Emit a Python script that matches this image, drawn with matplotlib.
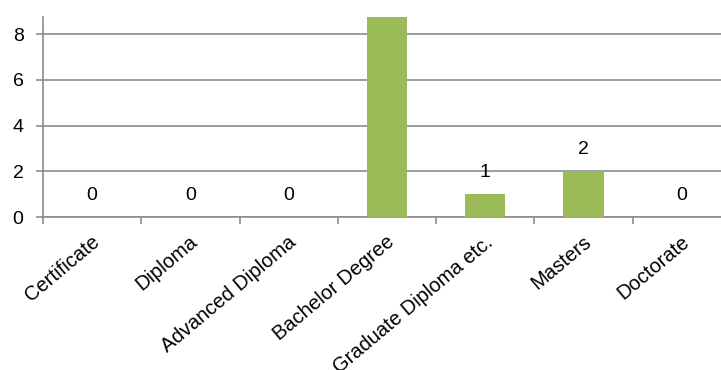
import numpy as np
import matplotlib.pyplot as plt
from matplotlib.transforms import offset_copy

plt.rcParams['font.family'] = ['Liberation Sans', 'DejaVu Sans']

categories = ['Certificate', 'Diploma', 'Advanced Diploma', 'Bachelor Degree',
              'Graduate Diploma etc.', 'Masters', 'Doctorate']
counts = [0, 0, 0, 9, 1, 2, 0]

bar_color = '#9BBB59'
grid_color = '#8C8C8C'
y_top = 8.75

fig = plt.figure(figsize=(7.21, 3.70), dpi=100)
ax = fig.add_axes([43 / 721, 153 / 370, 688 / 721, 200 / 370])

x = np.arange(len(categories))
ax.bar(x, counts, width=0.41, color=bar_color, zorder=3)

# value labels sit about one unit above each bar (only those inside the plot)
for xi, v in zip(x, counts):
    if v + 0.95 < y_top:
        ax.text(xi, v + 0.95, str(v), ha='center', va='center', fontsize=14,
                color='black', zorder=4)

ax.set_xlim(-0.5, len(categories) - 0.5)
ax.set_ylim(0, y_top)
ax.set_yticks([0, 2, 4, 6, 8])
ax.yaxis.grid(True, color=grid_color, linewidth=1.2, zorder=0)

# category ticks at the boundaries, labels centred between them
ax.set_xticks(np.arange(len(categories) + 1) - 0.5)
ax.set_xticklabels([])
ax.set_xticks(x, minor=True)
ax.set_xticklabels(categories, minor=True, rotation=40, ha='right', va='top',
                   fontsize=14.5)
ax.tick_params(axis='x', which='minor', length=0, pad=11)
ax.tick_params(axis='x', which='major', length=5, color=grid_color, width=1.2)
ax.tick_params(axis='y', length=5, color=grid_color, width=1.2, labelsize=14, pad=9)

for lbl in ax.get_xticklabels(minor=True):
    lbl.set_transform(offset_copy(lbl.get_transform(), fig=fig, x=8, y=0, units='points'))

for side in ['top', 'right']:
    ax.spines[side].set_visible(False)
for side in ['left', 'bottom']:
    ax.spines[side].set_color(grid_color)
    ax.spines[side].set_linewidth(1.2)

fig.savefig('out.png', dpi=100)
